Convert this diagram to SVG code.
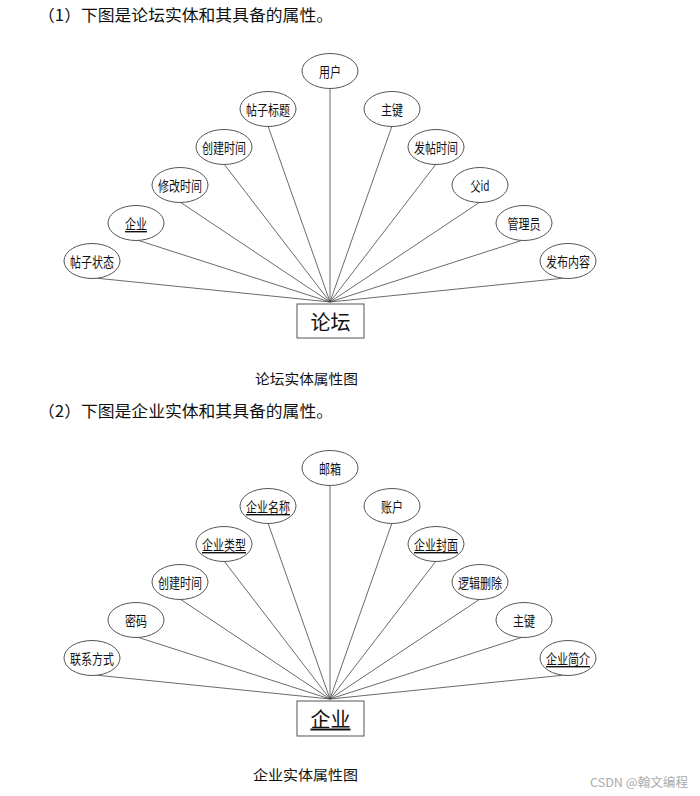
<svg xmlns="http://www.w3.org/2000/svg" width="700" height="796" viewBox="0 0 700 796">
<style>
.bg{fill:#fff}
.attr ellipse{fill:#fff;stroke:#555;stroke-width:1}
.attr text{font-family:"Noto Sans CJK SC","Liberation Sans",sans-serif;font-size:14px;fill:#111;text-anchor:middle;dominant-baseline:central}
.ent rect{fill:#fff;stroke:#555;stroke-width:1}
.ent text{font-family:"Noto Sans CJK SC",sans-serif;font-size:20px;fill:#111;text-anchor:middle;dominant-baseline:central}
.conn line{stroke:#444;stroke-width:0.8}
.head{font-family:"Noto Sans CJK SC",serif;font-size:16px;fill:#111}
.cap{font-family:"Noto Sans CJK SC",sans-serif;font-size:14px;fill:#111}
.u{text-decoration:underline}
</style>
<rect class="bg" width="700" height="796"/>
<text class="head" x="38" y="21" textLength="295" lengthAdjust="spacingAndGlyphs">（1）下图是论坛实体和其具备的属性。</text>
<g id="conn1" class="conn">
<line x1="330" y1="89" x2="330" y2="302"/>
<line x1="268" y1="126" x2="330" y2="302"/>
<line x1="224" y1="164" x2="330" y2="302"/>
<line x1="180" y1="202" x2="330" y2="302"/>
<line x1="137" y1="240" x2="330" y2="302"/>
<line x1="95" y1="278" x2="330" y2="302"/>
<line x1="392" y1="126" x2="330" y2="302"/>
<line x1="436" y1="164" x2="330" y2="302"/>
<line x1="480" y1="202" x2="330" y2="302"/>
<line x1="523" y1="240" x2="330" y2="302"/>
<line x1="565" y1="278" x2="330" y2="302"/>
</g>
<g id="a1-user" class="attr"><ellipse cx="330" cy="71" rx="28" ry="17.5"/><text x="330" y="71" textLength="22" lengthAdjust="spacingAndGlyphs">用户</text></g>
<g id="a1-title" class="attr"><ellipse cx="268" cy="109" rx="28" ry="17.5"/><text x="268" y="109" textLength="44" lengthAdjust="spacingAndGlyphs">帖子标题</text></g>
<g id="a1-ctime" class="attr"><ellipse cx="224" cy="147" rx="28" ry="17.5"/><text x="224" y="147" textLength="44" lengthAdjust="spacingAndGlyphs">创建时间</text></g>
<g id="a1-mtime" class="attr"><ellipse cx="180" cy="185" rx="28" ry="17.5"/><text x="180" y="185" textLength="44" lengthAdjust="spacingAndGlyphs">修改时间</text></g>
<g id="a1-ent" class="attr"><ellipse cx="136" cy="223" rx="28" ry="17.5"/><text class="u" x="136" y="223" textLength="22" lengthAdjust="spacingAndGlyphs">企业</text></g>
<g id="a1-status" class="attr"><ellipse cx="92" cy="261" rx="28" ry="17.5"/><text x="92" y="261" textLength="44" lengthAdjust="spacingAndGlyphs">帖子状态</text></g>
<g id="a1-pk" class="attr"><ellipse cx="392" cy="109" rx="28" ry="17.5"/><text x="392" y="109" textLength="22" lengthAdjust="spacingAndGlyphs">主键</text></g>
<g id="a1-ptime" class="attr"><ellipse cx="436" cy="147" rx="28" ry="17.5"/><text x="436" y="147" textLength="44" lengthAdjust="spacingAndGlyphs">发帖时间</text></g>
<g id="a1-pid" class="attr"><ellipse cx="480" cy="185" rx="28" ry="17.5"/><text x="480" y="185" textLength="19" lengthAdjust="spacingAndGlyphs">父id</text></g>
<g id="a1-admin" class="attr"><ellipse cx="524" cy="223" rx="28" ry="17.5"/><text x="524" y="223" textLength="33" lengthAdjust="spacingAndGlyphs">管理员</text></g>
<g id="a1-content" class="attr"><ellipse cx="568" cy="261" rx="28" ry="17.5"/><text x="568" y="261" textLength="44" lengthAdjust="spacingAndGlyphs">发布内容</text></g>
<g id="e-forum" class="ent"><rect x="297" y="304" width="67" height="34"/><text x="330.5" y="321">论坛</text></g>
<text class="cap" x="255" y="384" textLength="103" lengthAdjust="spacingAndGlyphs">论坛实体属性图</text>
<text class="head" x="38" y="417" textLength="295" lengthAdjust="spacingAndGlyphs">（2）下图是企业实体和其具备的属性。</text>
<g id="conn2" class="conn">
<line x1="330" y1="486" x2="330" y2="699"/>
<line x1="268" y1="523" x2="330" y2="699"/>
<line x1="224" y1="561" x2="330" y2="699"/>
<line x1="180" y1="599" x2="330" y2="699"/>
<line x1="137" y1="637" x2="330" y2="699"/>
<line x1="95" y1="675" x2="330" y2="699"/>
<line x1="392" y1="523" x2="330" y2="699"/>
<line x1="436" y1="561" x2="330" y2="699"/>
<line x1="480" y1="599" x2="330" y2="699"/>
<line x1="523" y1="637" x2="330" y2="699"/>
<line x1="565" y1="675" x2="330" y2="699"/>
</g>
<g id="a2-mail" class="attr"><ellipse cx="330" cy="468" rx="28" ry="17.5"/><text x="330" y="468" textLength="22" lengthAdjust="spacingAndGlyphs">邮箱</text></g>
<g id="a2-name" class="attr"><ellipse cx="268" cy="506" rx="28" ry="17.5"/><text class="u" x="268" y="506" textLength="44" lengthAdjust="spacingAndGlyphs">企业名称</text></g>
<g id="a2-type" class="attr"><ellipse cx="224" cy="544" rx="28" ry="17.5"/><text class="u" x="224" y="544" textLength="44" lengthAdjust="spacingAndGlyphs">企业类型</text></g>
<g id="a2-ctime" class="attr"><ellipse cx="180" cy="582" rx="28" ry="17.5"/><text x="180" y="582" textLength="44" lengthAdjust="spacingAndGlyphs">创建时间</text></g>
<g id="a2-pwd" class="attr"><ellipse cx="136" cy="620" rx="28" ry="17.5"/><text x="136" y="620" textLength="22" lengthAdjust="spacingAndGlyphs">密码</text></g>
<g id="a2-contact" class="attr"><ellipse cx="92" cy="658" rx="28" ry="17.5"/><text x="92" y="658" textLength="44" lengthAdjust="spacingAndGlyphs">联系方式</text></g>
<g id="a2-account" class="attr"><ellipse cx="392" cy="506" rx="28" ry="17.5"/><text x="392" y="506" textLength="22" lengthAdjust="spacingAndGlyphs">账户</text></g>
<g id="a2-cover" class="attr"><ellipse cx="436" cy="544" rx="28" ry="17.5"/><text class="u" x="436" y="544" textLength="44" lengthAdjust="spacingAndGlyphs">企业封面</text></g>
<g id="a2-del" class="attr"><ellipse cx="480" cy="582" rx="28" ry="17.5"/><text x="480" y="582" textLength="44" lengthAdjust="spacingAndGlyphs">逻辑删除</text></g>
<g id="a2-pk" class="attr"><ellipse cx="524" cy="620" rx="28" ry="17.5"/><text x="524" y="620" textLength="22" lengthAdjust="spacingAndGlyphs">主键</text></g>
<g id="a2-intro" class="attr"><ellipse cx="568" cy="658" rx="28" ry="17.5"/><text class="u" x="568" y="658" textLength="44" lengthAdjust="spacingAndGlyphs">企业简介</text></g>
<g id="e-company" class="ent"><rect x="297" y="701" width="67" height="35"/><text class="u" x="330.5" y="718">企业</text></g>
<text class="cap" x="253" y="780" textLength="105" lengthAdjust="spacingAndGlyphs">企业实体属性图</text>
<text x="590" y="787" font-family="Noto Sans CJK SC, sans-serif" font-size="12" fill="#aaa" textLength="98" lengthAdjust="spacingAndGlyphs">CSDN @翰文编程</text>
</svg>
